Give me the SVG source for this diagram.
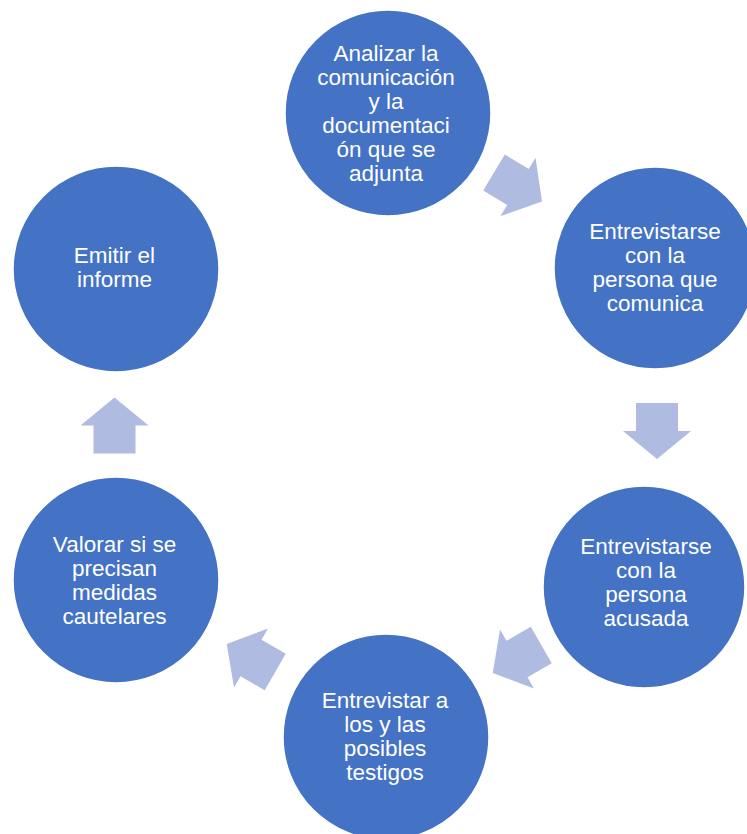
<svg xmlns="http://www.w3.org/2000/svg" width="747" height="834" viewBox="0 0 747 834">
<style>
.node{fill:#4472C4;stroke:#FFFFFF;stroke-width:1.5}
.lbl{fill:#FFFFFF;font-family:"Liberation Sans",Arial,sans-serif;font-size:22.5px;text-anchor:middle}
.arr{fill:#AFBBE0}
</style>
<defs>
<polygon id="arrowShape" points="-28,-21 0,-21 0,-34 28,0 0,34 0,21 -28,21"/>
</defs>
<rect width="747" height="834" fill="#FFFFFF"/>
<g id="connectors">
<use href="#arrowShape" class="arr" transform="translate(518,187) rotate(31)"/>
<use href="#arrowShape" class="arr" transform="translate(657,431) rotate(90)"/>
<use href="#arrowShape" class="arr" transform="translate(517,659) rotate(150)"/>
<use href="#arrowShape" class="arr" transform="translate(251,658) rotate(210)"/>
<use href="#arrowShape" class="arr" transform="translate(114.5,425.5) rotate(-90)"/>
</g>
<g id="n1">
<circle class="node" cx="388" cy="113" r="103"/>
<text class="lbl"><tspan x="386" y="61">Analizar la</tspan><tspan x="386" y="85">comunicación</tspan><tspan x="386" y="109">y la</tspan><tspan x="386" y="133">documentaci</tspan><tspan x="386" y="157">ón que se</tspan><tspan x="386" y="181">adjunta</tspan></text>
</g>
<g id="n2">
<circle class="node" cx="655" cy="268" r="101"/>
<text class="lbl"><tspan x="655" y="239">Entrevistarse</tspan><tspan x="655" y="263">con la</tspan><tspan x="655" y="287">persona que</tspan><tspan x="655" y="311">comunica</tspan></text>
</g>
<g id="n3">
<circle class="node" cx="644" cy="587" r="101"/>
<text class="lbl"><tspan x="646" y="554">Entrevistarse</tspan><tspan x="646" y="578">con la</tspan><tspan x="646" y="602">persona</tspan><tspan x="646" y="626">acusada</tspan></text>
</g>
<g id="n4">
<circle class="node" cx="386" cy="737" r="103"/>
<text class="lbl"><tspan x="385" y="708">Entrevistar a</tspan><tspan x="385" y="732">los y las</tspan><tspan x="385" y="756">posibles</tspan><tspan x="385" y="780">testigos</tspan></text>
</g>
<g id="n5">
<circle class="node" cx="116" cy="580" r="103"/>
<text class="lbl"><tspan x="114.5" y="552">Valorar si se</tspan><tspan x="114.5" y="576">precisan</tspan><tspan x="114.5" y="600">medidas</tspan><tspan x="114.5" y="624">cautelares</tspan></text>
</g>
<g id="n6">
<circle class="node" cx="116" cy="269" r="103"/>
<text class="lbl"><tspan x="114.5" y="263">Emitir el</tspan><tspan x="114.5" y="287">informe</tspan></text>
</g>
</svg>
